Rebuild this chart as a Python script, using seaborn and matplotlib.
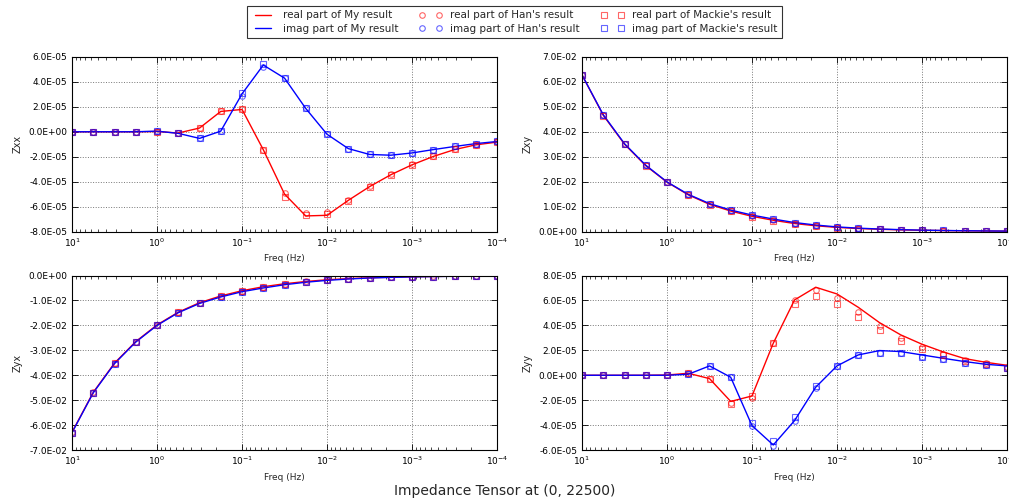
"""Impedance tensor comparison: My result vs Han's and Mackie's results."""

import matplotlib
matplotlib.use("Agg")
import matplotlib.pyplot as plt
from matplotlib.ticker import FormatStrFormatter, LogLocator
import seaborn as sns

# frequencies (Hz), 4 per decade from 10 Hz down to 1e-4 Hz
freq = [10, 5.62, 3.16, 1.78, 1.0, 0.562, 0.316, 0.178, 0.1, 0.0562, 0.0316,
        0.0178, 0.01, 0.00562, 0.00316, 0.00178, 0.001, 0.000562, 0.000316,
        0.000178, 0.0001]

# Zxx (units of 1e-5)
zxx_my_re = [0, 0, 0, 0, 0.02, -0.1, 0.3, 1.63, 1.79, -1.44, -5.0, -6.75, -6.7,
             -5.5, -4.4, -3.45, -2.65, -1.98, -1.43, -1.05, -0.83]
zxx_my_im = [0, 0, 0, 0, 0.05, -0.13, -0.53, 0.05, 3.04, 5.35, 4.3, 1.87, -0.2,
             -1.35, -1.82, -1.88, -1.7, -1.43, -1.18, -0.95, -0.78]
zxx_han_re = [0, 0, 0, 0, 0.02, -0.1, 0.3, 1.63, 1.79, -1.44, -4.95, -6.55, -6.45,
              -5.45, -4.35, -3.4, -2.6, -1.95, -1.4, -1.03, -0.82]
zxx_han_im = [0, 0, 0, 0, 0.05, -0.13, -0.53, 0.05, 2.9, 5.2, 4.3, 1.87, -0.2,
              -1.35, -1.82, -1.88, -1.7, -1.43, -1.18, -0.95, -0.78]
zxx_mack_re = [0, 0, 0, 0, 0.02, -0.12, 0.27, 1.63, 1.79, -1.5, -5.2, -6.7, -6.6,
               -5.55, -4.42, -3.45, -2.63, -1.97, -1.42, -1.05, -0.83]
zxx_mack_im = [0, 0, 0, 0, 0.05, -0.13, -0.53, 0.05, 3.1, 5.4, 4.3, 1.87, -0.2,
               -1.35, -1.82, -1.88, -1.7, -1.43, -1.18, -0.95, -0.78]

# Zxy (units of 1e-2)
zxy_my_re = [6.28, 4.66, 3.50, 2.64, 1.98, 1.47, 1.09, 0.82, 0.61, 0.45, 0.32,
             0.23, 0.165, 0.12, 0.09, 0.065, 0.05, 0.038, 0.028, 0.021, 0.016]
zxy_my_im = [6.28, 4.68, 3.52, 2.66, 1.99, 1.49, 1.12, 0.86, 0.66, 0.50, 0.36,
             0.26, 0.185, 0.135, 0.10, 0.075, 0.055, 0.042, 0.031, 0.023, 0.017]
zxy_han_re = [6.29, 4.67, 3.50, 2.65, 1.98, 1.48, 1.10, 0.83, 0.62, 0.45, 0.32,
              0.23, 0.165, 0.12, 0.09, 0.065, 0.05, 0.038, 0.028, 0.021, 0.016]
zxy_han_im = [6.29, 4.68, 3.52, 2.66, 1.99, 1.49, 1.12, 0.86, 0.66, 0.50, 0.36,
              0.26, 0.185, 0.135, 0.10, 0.075, 0.055, 0.042, 0.031, 0.023, 0.017]
zxy_mack_re = [6.27, 4.65, 3.49, 2.63, 1.97, 1.46, 1.08, 0.81, 0.60, 0.43, 0.31,
               0.22, 0.16, 0.12, 0.09, 0.065, 0.05, 0.038, 0.028, 0.021, 0.016]
zxy_mack_im = [6.28, 4.68, 3.52, 2.66, 1.99, 1.49, 1.12, 0.86, 0.66, 0.50, 0.36,
               0.26, 0.185, 0.135, 0.10, 0.075, 0.055, 0.042, 0.031, 0.023, 0.017]

# Zyx (units of 1e-2)
zyx_my_re = [-6.28, -4.68, -3.51, -2.65, -1.98, -1.47, -1.09, -0.82, -0.61, -0.45,
             -0.33, -0.24, -0.17, -0.125, -0.09, -0.068, -0.05, -0.038, -0.028,
             -0.021, -0.016]
zyx_my_im = [-6.30, -4.70, -3.53, -2.67, -2.0, -1.49, -1.12, -0.86, -0.65, -0.50,
             -0.37, -0.27, -0.195, -0.14, -0.10, -0.075, -0.056, -0.042, -0.031,
             -0.023, -0.017]
zyx_han_re = [-6.29, -4.69, -3.51, -2.65, -1.98, -1.48, -1.10, -0.83, -0.62, -0.46,
              -0.33, -0.24, -0.17, -0.125, -0.09, -0.068, -0.05, -0.038, -0.028,
              -0.021, -0.016]
zyx_han_im = [-6.30, -4.70, -3.53, -2.67, -2.0, -1.49, -1.12, -0.86, -0.65, -0.50,
              -0.37, -0.27, -0.195, -0.14, -0.10, -0.075, -0.056, -0.042, -0.031,
              -0.023, -0.017]
zyx_mack_re = [-6.30, -4.70, -3.52, -2.66, -1.99, -1.48, -1.10, -0.84, -0.64, -0.48,
               -0.35, -0.25, -0.18, -0.13, -0.095, -0.07, -0.052, -0.04, -0.03,
               -0.022, -0.017]
zyx_mack_im = [-6.30, -4.70, -3.53, -2.67, -2.0, -1.49, -1.12, -0.86, -0.65, -0.50,
               -0.37, -0.27, -0.195, -0.14, -0.10, -0.075, -0.056, -0.042, -0.031,
               -0.023, -0.017]

# Zyy (units of 1e-5)
zyy_my_re = [0, 0, 0, 0, 0.02, 0.16, -0.27, -2.1, -1.66, 2.57, 6.04, 7.06, 6.52,
             5.45, 4.22, 3.24, 2.49, 1.87, 1.34, 1.04, 0.8]
zyy_my_im = [0, 0, 0, 0, 0, 0.08, 0.75, -0.16, -4.04, -5.59, -3.64, -0.96, 0.75,
             1.63, 1.98, 1.9, 1.63, 1.36, 1.1, 0.88, 0.75]
zyy_han_re = [0, 0, 0, 0, 0.02, 0.16, -0.27, -2.2, -1.8, 2.57, 6.0, 6.85, 6.18,
              5.05, 3.96, 2.97, 2.3, 1.72, 1.2, 0.98, 0.66]
zyy_han_im = [0, 0, 0, 0, 0, 0.08, 0.75, -0.16, -4.04, -5.7, -3.7, -1.0, 0.75,
              1.63, 1.82, 1.76, 1.5, 1.28, 1.02, 0.8, 0.59]
zyy_mack_re = [0, 0, 0, 0, 0.02, 0.16, -0.27, -2.3, -1.7, 2.57, 5.7, 6.36, 5.72,
               4.7, 3.64, 2.78, 2.14, 1.65, 1.16, 0.94, 0.62]
zyy_mack_im = [0, 0, 0, 0, 0, 0.08, 0.75, -0.16, -3.85, -5.3, -3.37, -0.9, 0.75,
               1.63, 1.82, 1.76, 1.5, 1.28, 1.02, 0.8, 0.59]

# (name, unit, y tick range in units of `step`, step)
PANELS = [
    ("Zxx", 1e-5, (-4, 3), 2e-5,
     (zxx_my_re, zxx_my_im, zxx_han_re, zxx_han_im, zxx_mack_re, zxx_mack_im)),
    ("Zxy", 1e-2, (0, 7), 1e-2,
     (zxy_my_re, zxy_my_im, zxy_han_re, zxy_han_im, zxy_mack_re, zxy_mack_im)),
    ("Zyx", 1e-2, (-7, 0), 1e-2,
     (zyx_my_re, zyx_my_im, zyx_han_re, zyx_han_im, zyx_mack_re, zyx_mack_im)),
    ("Zyy", 1e-5, (-3, 4), 2e-5,
     (zyy_my_re, zyy_my_im, zyy_han_re, zyy_han_im, zyy_mack_re, zyy_mack_im)),
]

RED = "#ff0000"
BLUE = "#0000ff"


def draw_panel(ax, name, unit, krange, step, series):
    my_re, my_im, han_re, han_im, mack_re, mack_im = [[v * unit for v in s] for s in series]

    sns.lineplot(x=freq, y=my_re, ax=ax, color=RED, lw=1, label="real part of My result")
    sns.lineplot(x=freq, y=my_im, ax=ax, color=BLUE, lw=1, label="imag part of My result")
    mk = dict(linestyle="none", mfc="none", ms=4, mew=0.8, alpha=0.6)
    sns.lineplot(x=freq, y=han_re, ax=ax, color=RED, mec=RED, marker="o",
                 label="real part of Han's result", **mk)
    sns.lineplot(x=freq, y=han_im, ax=ax, color=BLUE, mec=BLUE, marker="o",
                 label="imag part of Han's result", **mk)
    sns.lineplot(x=freq, y=mack_re, ax=ax, color=RED, mec=RED, marker="s",
                 label="real part of Mackie's result", **mk)
    sns.lineplot(x=freq, y=mack_im, ax=ax, color=BLUE, mec=BLUE, marker="s",
                 label="imag part of Mackie's result", **mk)

    ax.set_xscale("log")
    ax.set_xlim(10, 1e-4)
    ax.xaxis.set_major_locator(LogLocator(base=10, numticks=10))
    ax.xaxis.set_minor_locator(LogLocator(base=10, subs=range(2, 10), numticks=50))
    yt = [k * step for k in range(krange[0], krange[1] + 1)]
    ax.set_ylim(yt[0], yt[-1])
    ax.set_yticks(yt)
    ax.yaxis.set_major_formatter(FormatStrFormatter("%.1E"))
    ax.grid(True, which="major", linestyle=":", color="#777777", linewidth=0.7)
    ax.set_xlabel("Freq (Hz)", fontsize=6.5)
    ax.set_ylabel(name, fontsize=7)
    ax.tick_params(which="both", direction="in", top=True, right=True, labelsize=6.5,
                   colors="black", bottom=True, left=True)
    ax.tick_params(which="major", length=4, width=0.6)
    ax.tick_params(which="minor", length=2, width=0.5)
    for sp in ax.spines.values():
        sp.set_color("black")
        sp.set_linewidth(0.8)
    if ax.get_legend() is not None:
        ax.get_legend().remove()


def main():
    sns.set_theme(style="white")
    plt.rcParams["font.family"] = ["DejaVu Sans"]

    fig, axes = plt.subplots(2, 2, figsize=(10.09, 5.04), dpi=100)
    fig.subplots_adjust(left=0.0714, right=0.998, bottom=0.107, top=0.887,
                        wspace=0.2, hspace=0.252)

    for ax, (name, unit, krange, step, series) in zip(axes.flat, PANELS):
        draw_panel(ax, name, unit, krange, step, series)

    handles, labels = axes[0, 0].get_legend_handles_labels()
    leg = fig.legend(handles, labels, loc="upper center", bbox_to_anchor=(0.51, 0.998),
                     ncol=3, fontsize=7.5, numpoints=2, frameon=True, fancybox=False,
                     edgecolor="black", borderpad=0.4, labelspacing=0.3,
                     handlelength=2.2, columnspacing=2.0)
    leg.get_frame().set_linewidth(0.8)

    fig.text(0.5, 0.012, "Impedance Tensor at (0, 22500)", ha="center", va="bottom",
             fontsize=10)

    fig.savefig("out.png", dpi=100)
    plt.close(fig)


if __name__ == "__main__":
    main()
